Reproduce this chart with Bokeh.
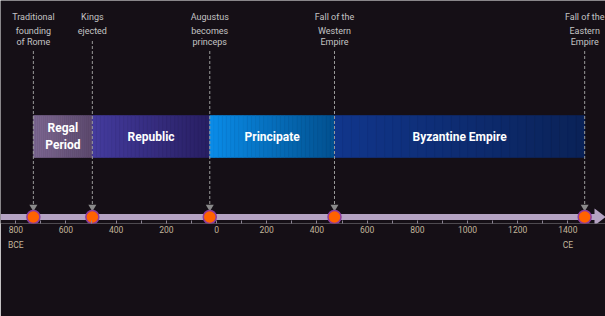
import numpy as np
from bokeh.plotting import figure
from bokeh.models import Range1d, FixedTicker
from bokeh.core.properties import value
from bokeh.embed import file_html
from bokeh.resources import INLINE

# ---------------- data ----------------
EVENT_YEARS = [-730, -495, -27, 470, 1467]
EVENT_TITLES = ["Traditional", "Kings", "Augustus", "Fall of the", "Fall of the"]
EVENT_DETAILS = ["founding\nof Rome", "ejected", "becomes\nprinceps", "Western\nEmpire", "Eastern\nEmpire"]

PERIOD_NAMES = ["Regal\nPeriod", "Republic", "Principate", "Byzantine Empire"]
PERIOD_STARTS = [-730, -495, -27, 470]
PERIOD_ENDS = [-495, -27, 470, 1467]
PERIOD_COLOR_LEFT = ["#7d6892", "#443b9e", "#0a8ce8", "#11368c"]
PERIOD_COLOR_RIGHT = ["#5d4a6e", "#281f62", "#02508f", "#0a2257"]

TICK_YEARS = [-800, -700, -600, -500, -400, -300, -200, -100, 0,
              100, 200, 300, 400, 500, 600, 700, 800, 900, 1000, 1100, 1200, 1300, 1400]
TICK_LABELS = ["800\nBCE", "", "600", "", "400", "", "200", "", "0",
               "", "200", "", "400", "", "600", "", "800", "", "1000", "", "1200", "", "1400\nCE"]

# ---------------- layout / style ----------------
BG = "#150f16"
X_START, X_END = -861, 1550
W, H = 605, 316
PX = (X_END - X_START) / W          # years per pixel
FRAME_BOTTOM = 223
AXIS_Y = 216.5
BAR_TOP, BAR_BOTTOM = 115, 157
TITLE_Y = 16
DETAIL_TOP = 25.5

p = figure(width=W, height=H, x_range=Range1d(X_START, X_END), y_range=Range1d(FRAME_BOTTOM, 0),
           output_backend="svg", toolbar_location=None, y_axis_location=None,
           min_border_left=0, min_border_right=0, min_border_top=0,
           min_border_bottom=H - FRAME_BOTTOM)
p.background_fill_color = BG
p.border_fill_color = BG
p.outline_line_color = None
p.xgrid.visible = False
p.ygrid.visible = False

# period bars with horizontal gradient (drawn as thin strips)
def mix(c1, c2, t):
    a = np.array([int(c1[i:i + 2], 16) for i in (1, 3, 5)], float)
    b = np.array([int(c2[i:i + 2], 16) for i in (1, 3, 5)], float)
    c = (a + (b - a) * t).round().astype(int)
    return "#%02x%02x%02x" % tuple(c)

N = 30
lefts, rights, cols = [], [], []
for s, e, cl, cr in zip(PERIOD_STARTS, PERIOD_ENDS, PERIOD_COLOR_LEFT, PERIOD_COLOR_RIGHT):
    edges = np.linspace(s, e, N + 1)
    for i in range(N):
        lefts.append(edges[i])
        rights.append(edges[i + 1])
        cols.append(mix(cl, cr, (i + 0.5) / N))
p.quad(left=lefts, right=rights, top=BAR_TOP, bottom=BAR_BOTTOM,
       fill_color=cols, line_color=cols, line_width=0.6)

mids = [(s + e) / 2 for s, e in zip(PERIOD_STARTS, PERIOD_ENDS)]
p.text(x=mids, y=(BAR_TOP + BAR_BOTTOM) / 2, text=PERIOD_NAMES,
       text_font=value("Roboto"), text_font_style="bold", text_font_size="12px",
       text_color="white", text_align="center", text_baseline="middle", text_line_height=1.25)

# timeline axis line + arrow head
HEAD_LEN = 11 * PX
p.segment(x0=X_START, y0=AXIS_Y, x1=X_END - HEAD_LEN + PX, y1=AXIS_Y,
          line_color="#b5a3c3", line_width=6)
p.patch(x=[X_END - HEAD_LEN, X_END, X_END - HEAD_LEN],
        y=[AXIS_Y - 8.5, AXIS_Y, AXIS_Y + 8.5], fill_color="#b5a3c3", line_color=None)

# event dashed leaders
n_lines = [d.count("\n") + 1 for d in EVENT_DETAILS]
starts = [DETAIL_TOP + 10 * n + 5 for n in n_lines]
p.segment(x0=EVENT_YEARS, y0=starts, x1=EVENT_YEARS, y1=204,
          line_color="#9a9a9a", line_width=1, line_dash="3 2")
p.scatter(x=EVENT_YEARS, y=206.5, marker="inverted_triangle", size=8,
          fill_color="#8a8a8a", line_color=None)

# event dots
p.scatter(x=EVENT_YEARS, y=AXIS_Y, marker="circle", size=13,
          fill_color="#ff6200", line_color="#8e3c9e", line_width=1.5)

# event labels
p.text(x=EVENT_YEARS, y=TITLE_Y, text=EVENT_TITLES, text_font=value("Roboto"),
       text_font_size="9px", text_color="#c4c4c4", text_align="center", text_baseline="middle")
p.text(x=EVENT_YEARS, y=DETAIL_TOP, text=EVENT_DETAILS, text_font=value("Roboto"),
       text_font_size="9px", text_color="#c4c4c4", text_align="center", text_baseline="top",
       text_line_height=1.1)

# axis ticks and labels
ax = p.xaxis[0]
ax.ticker = FixedTicker(ticks=TICK_YEARS, minor_ticks=[])
ax.major_label_overrides = {y: l for y, l in zip(TICK_YEARS, TICK_LABELS)}
ax.axis_line_color = None
ax.major_tick_in = 3
ax.major_tick_out = 0
ax.major_tick_line_color = "#8c8494"
ax.minor_tick_line_color = None
ax.major_label_standoff = 1
ax.major_label_text_font = "Roboto"
ax.major_label_text_font_size = "8.5px"
ax.major_label_text_color = "#c2b59b"
ax.major_label_text_line_height = 1.55

open("out.html", "w").write(file_html(p, INLINE))
